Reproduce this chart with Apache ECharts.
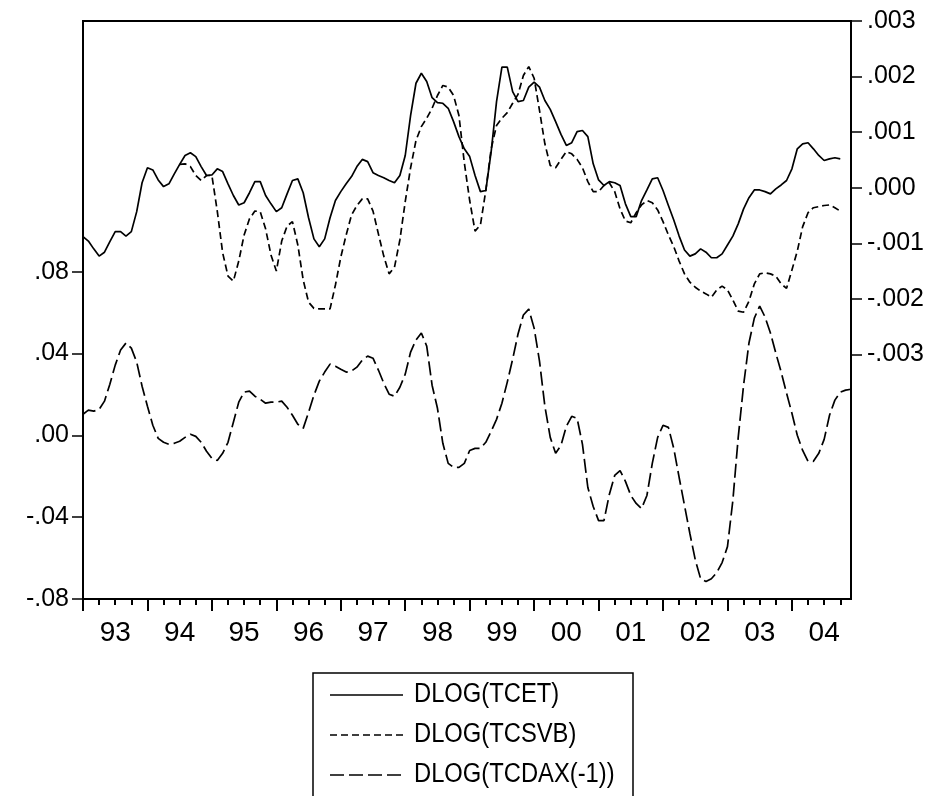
<!DOCTYPE html>
<html><head><meta charset="utf-8">
<script src="https://cdn.jsdelivr.net/npm/echarts@6/dist/echarts.min.js"></script>
<style>html,body{margin:0;padding:0;background:#fff}#c{width:947px;height:796px}</style>
</head><body><div id="c"></div>
<script>
const yearLabels = ['93','94','95','96','97','98','99','00','01','02','03','04'];
const months = [];
yearLabels.forEach((y, k) => { for (let m = 1; m <= 12; m++) months.push((1993 + k) + 'M' + String(m).padStart(2, '0')); });

// DLOG(TCET) - right axis
const tcet = [
-0.00088,-0.00096,-0.00110,-0.00123,-0.00116,-0.00097,-0.00079,-0.00079,-0.00087,-0.00079,
-0.00043,0.00009,0.00036,0.00032,0.00014,0.00002,0.00007,0.00025,0.00042,0.00058,
0.00063,0.00056,0.00038,0.00022,0.00023,0.00034,0.00029,0.00007,-0.00014,-0.00031,
-0.00027,-0.00009,0.00011,0.00011,-0.00014,-0.00029,-0.00043,-0.00036,-0.00011,0.00013,
0.00016,-0.00009,-0.00054,-0.00092,-0.00106,-0.00092,-0.00054,-0.00023,-0.00007,0.00007,
0.00020,0.00038,0.00051,0.00047,0.00027,0.00022,0.00018,0.00013,0.00009,0.00022,
0.00058,0.00130,0.00188,0.00206,0.00191,0.00162,0.00153,0.00152,0.00143,0.00119,
0.00092,0.00070,0.00056,0.00022,-0.00007,-0.00005,0.00065,0.00155,0.00217,0.00217,
0.00173,0.00155,0.00157,0.00181,0.00190,0.00181,0.00157,0.00141,0.00119,0.00096,
0.00076,0.00081,0.00101,0.00103,0.00092,0.00043,0.00014,0.00004,0.00011,0.00009,
0.00004,-0.00029,-0.00052,-0.00052,-0.00023,-0.00004,0.00016,0.00018,-0.00005,-0.00032,
-0.00058,-0.00087,-0.00112,-0.00123,-0.00119,-0.00110,-0.00116,-0.00126,-0.00126,-0.00119,
-0.00103,-0.00087,-0.00065,-0.00038,-0.00018,-0.00004,-0.00004,-0.00007,-0.00011,-0.00002,
0.00005,0.00013,0.00034,0.00070,0.00079,0.00081,0.00070,0.00058,0.00049,0.00052,
0.00054,0.00052,null,null
];

// DLOG(TCSVB) - right axis
const tcsvb = [
null,null,null,null,null,null,null,null,null,null,
null,null,null,null,null,null,null,null,0.00042,0.00043,
0.00038,0.00022,0.00013,0.00022,0.00022,-0.00042,-0.00117,-0.00159,-0.00168,-0.00132,
-0.00085,-0.00056,-0.00042,-0.00043,-0.00074,-0.00121,-0.00150,-0.00096,-0.00069,-0.00061,
-0.00103,-0.00166,-0.00206,-0.00217,-0.00218,-0.00218,-0.00218,-0.00175,-0.00125,-0.00085,
-0.00049,-0.00032,-0.00020,-0.00020,-0.00042,-0.00083,-0.00123,-0.00155,-0.00143,-0.00094,
-0.00025,0.00036,0.00085,0.00110,0.00125,0.00143,0.00166,0.00184,0.00181,0.00166,
0.00130,0.00045,-0.00023,-0.00078,-0.00067,-0.00005,0.00070,0.00112,0.00125,0.00135,
0.00152,0.00168,0.00202,0.00218,0.00197,0.00139,0.00079,0.00040,0.00036,0.00051,
0.00065,0.00061,0.00051,0.00036,0.00011,-0.00007,-0.00007,0.00004,0.00009,-0.00007,
-0.00038,-0.00060,-0.00063,-0.00045,-0.00031,-0.00023,-0.00027,-0.00040,-0.00061,-0.00085,
-0.00106,-0.00132,-0.00155,-0.00170,-0.00179,-0.00186,-0.00191,-0.00197,-0.00184,-0.00177,
-0.00184,-0.00202,-0.00222,-0.00224,-0.00204,-0.00173,-0.00155,-0.00153,-0.00155,-0.00159,
-0.00173,-0.00181,-0.00148,-0.00114,-0.00070,-0.00045,-0.00036,-0.00034,-0.00032,-0.00031,
-0.00036,-0.00042,null,null
];

// DLOG(TCDAX(-1)) - left axis
const tcdax = [
0.0103,0.0123,0.0118,0.0127,0.0167,0.0250,0.0343,0.0417,0.0451,0.0426,
0.0358,0.0240,0.0142,0.0049,-0.0015,-0.0034,-0.0044,-0.0039,-0.0029,-0.0010,
0.0005,-0.0005,-0.0034,-0.0078,-0.0113,-0.0123,-0.0088,-0.0034,0.0064,0.0162,
0.0211,0.0216,0.0191,0.0176,0.0157,0.0162,0.0162,0.0167,0.0137,0.0098,
0.0054,0.0034,0.0113,0.0196,0.0265,0.0309,0.0348,0.0338,0.0323,0.0309,
0.0314,0.0333,0.0368,0.0387,0.0377,0.0319,0.0255,0.0201,0.0191,0.0235,
0.0299,0.0407,0.0466,0.0500,0.0436,0.0245,0.0132,-0.0039,-0.0137,-0.0157,
-0.0157,-0.0137,-0.0074,-0.0064,-0.0064,-0.0034,0.0020,0.0078,0.0157,0.0260,
0.0372,0.0495,0.0588,0.0617,0.0524,0.0363,0.0142,-0.0010,-0.0088,-0.0049,
0.0044,0.0093,0.0083,-0.0044,-0.0255,-0.0348,-0.0417,-0.0417,-0.0289,-0.0196,
-0.0172,-0.0225,-0.0294,-0.0333,-0.0358,-0.0294,-0.0137,-0.0010,0.0049,0.0039,
-0.0064,-0.0206,-0.0343,-0.0480,-0.0608,-0.0701,-0.0715,-0.0701,-0.0671,-0.0622,
-0.0544,-0.0319,-0.0010,0.0245,0.0451,0.0573,0.0632,0.0578,0.0500,0.0402,
0.0309,0.0206,0.0108,0.0000,-0.0074,-0.0127,-0.0127,-0.0088,-0.0020,0.0098,
0.0172,0.0211,0.0221,0.0225
];

const leftTicks = [-0.08, -0.04, 0, 0.04, 0.08];
const rightTicks = [-0.003, -0.002, -0.001, 0, 0.001, 0.002, 0.003];
const legendNames = ['DLOG(TCET)', 'DLOG(TCSVB)', 'DLOG(TCDAX(-1))'];

const FONT = "'Liberation Sans', Arial, Helvetica, sans-serif";
function fmt(v, d) {
  let s = Math.abs(v).toFixed(d).replace(/^0\./, '.');
  return (v < -1e-12 ? '-' : '') + s;
}

const chart = echarts.init(document.getElementById('c'), null, { renderer: 'canvas' });
const option = {
  backgroundColor: '#fff',
  animation: false,
  grid: { left: 83, right: 96, top: 21, bottom: 197, show: true, borderColor: '#000', borderWidth: 2, backgroundColor: 'transparent' },
  xAxis: [
    {
      type: 'category', data: months, boundaryGap: false, position: 'bottom',
      axisLine: { onZero: false, lineStyle: { color: '#000', width: 2 } },
      axisTick: { length: 12, lineStyle: { color: '#000', width: 2 }, interval: (i) => i % 12 === 0 },
      axisLabel: {
        interval: (i) => i % 12 === 6,
        formatter: (v, i) => yearLabels[Math.floor(i / 12)],
        color: '#000', fontSize: 28, fontFamily: FONT, margin: 20
      },
      splitLine: { show: false }
    },
    {
      type: 'category', data: months, boundaryGap: false, position: 'bottom',
      axisLine: { show: false, onZero: false },
      axisTick: { length: 6, lineStyle: { color: '#000', width: 2 }, interval: (i) => i % 3 === 0 && i % 12 !== 0 },
      axisLabel: { show: false },
      splitLine: { show: false }
    }
  ],
  yAxis: [
    {
      type: 'value', position: 'left', min: -0.08, max: 0.2025,
      axisLine: { show: true, lineStyle: { color: '#000', width: 2 } },
      axisTick: { show: true, length: 11, customValues: leftTicks, lineStyle: { color: '#000', width: 1.5 } },
      axisLabel: { customValues: leftTicks, formatter: (v) => fmt(v, 2), color: '#000', fontSize: 25, fontFamily: FONT, margin: 14 },
      splitLine: { show: false }
    },
    {
      type: 'value', position: 'right', min: -0.0074, max: 0.003,
      axisLine: { show: true, lineStyle: { color: '#000', width: 2 } },
      axisTick: { show: true, length: 11, customValues: rightTicks, lineStyle: { color: '#000', width: 1.5 } },
      axisLabel: { customValues: rightTicks, formatter: (v) => fmt(v, 3), color: '#000', fontSize: 25, fontFamily: FONT, margin: 16 },
      splitLine: { show: false }
    }
  ],
  series: [
    { name: legendNames[0], type: 'line', xAxisIndex: 0, yAxisIndex: 1, data: tcet, symbol: 'none', lineStyle: { color: '#000', width: 1.7 } },
    { name: legendNames[1], type: 'line', xAxisIndex: 0, yAxisIndex: 1, data: tcsvb, symbol: 'none', lineStyle: { color: '#000', width: 1.7, type: [7, 4] } },
    { name: legendNames[2], type: 'line', xAxisIndex: 0, yAxisIndex: 0, data: tcdax, symbol: 'none', lineStyle: { color: '#000', width: 1.7, type: [14, 5] } }
  ],
  graphic: [
    { type: 'rect', shape: { x: 313, y: 673, width: 320, height: 124 }, style: { fill: '#fff', stroke: '#000', lineWidth: 1.5 } },
    { type: 'line', shape: { x1: 330, y1: 695, x2: 403, y2: 695 }, style: { stroke: '#000', lineWidth: 1.7 } },
    { type: 'line', shape: { x1: 330, y1: 735, x2: 403, y2: 735 }, style: { stroke: '#000', lineWidth: 1.7, lineDash: [7, 4] } },
    { type: 'line', shape: { x1: 330, y1: 775, x2: 403, y2: 775 }, style: { stroke: '#000', lineWidth: 1.7, lineDash: [14, 5] } },
    { type: 'text', x: 414, y: 695, scaleX: 0.88, style: { x: 0, y: 0, text: legendNames[0], fontSize: 27, fontFamily: FONT, fill: '#000', verticalAlign: 'middle' } },
    { type: 'text', x: 414, y: 735, scaleX: 0.88, style: { x: 0, y: 0, text: legendNames[1], fontSize: 27, fontFamily: FONT, fill: '#000', verticalAlign: 'middle' } },
    { type: 'text', x: 414, y: 775, scaleX: 0.88, style: { x: 0, y: 0, text: legendNames[2], fontSize: 27, fontFamily: FONT, fill: '#000', verticalAlign: 'middle' } }
  ]
};
chart.setOption(option);
</script>
</body></html>
